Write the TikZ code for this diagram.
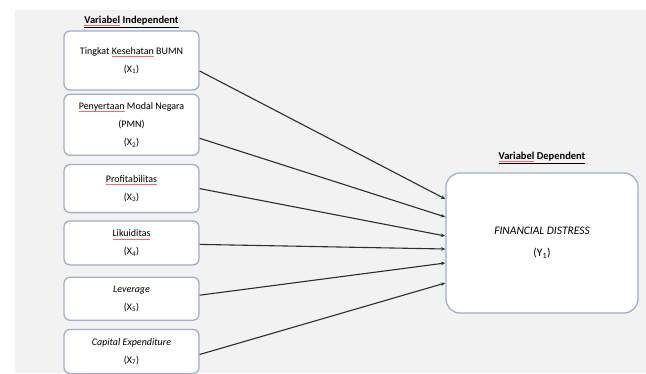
\documentclass[tikz,border=0pt]{standalone}
\usepackage{fontspec}
\setmainfont{Carlito}
\usepackage{xcolor}
\usepackage{tikz}
\usetikzlibrary{positioning,arrows.meta}

\definecolor{boxline}{RGB}{160,175,202}
\definecolor{paper}{RGB}{242,242,242}
\definecolor{wire}{RGB}{45,45,45}
\newcommand{\spellmark}[1]{\setbox0\hbox{#1}\rlap{\color{red!60}\raisebox{-2.6pt}{\rule{\wd0}{0.7pt}}}\box0\relax}

\begin{document}
\begin{tikzpicture}[x=1pt, y=1pt,
    varbox/.style={draw=boxline, line width=1.3pt, rounded corners=6pt, fill=white, minimum width=135pt, align=center, inner sep=2pt, font=\fontsize{10}{18}\selectfont},
    depbox/.style={draw=boxline, line width=1.3pt, rounded corners=14pt, fill=white, minimum width=192pt, minimum height=140pt, align=center, font=\fontsize{11.5}{22}\selectfont},
    header/.style={inner sep=1pt, font=\fontsize{10.5}{12}\selectfont\bfseries},
    link/.style={-{Stealth[length=4.5pt,width=3.5pt]}, draw=wire, line width=1.1pt}]
    % Page
    \useasboundingbox (0,0) rectangle (646,373);
    \fill [white] (0,0) rectangle (646,373);
    \fill [paper] (15,0) rectangle (646,363);

    % Independent variables
    \node [varbox, minimum height=59pt] (x1) at (131.5,312.5) {Tingkat \spellmark{Kesehatan} BUMN\\(X\textsubscript{1})};
    \node [varbox, minimum height=61pt, below=3pt of x1] (x2) {\spellmark{Penyertaan} Modal Negara\\(PMN)\\(X\textsubscript{2})};
    \node [varbox, minimum height=48pt, below=8pt of x2] (x3) {\spellmark{Profitabilitas}\\(X\textsubscript{3})};
    \node [varbox, minimum height=44pt, below=7pt of x3] (x4) {\spellmark{Likuiditas}\\(X\textsubscript{4})};
    \node [varbox, minimum height=43pt, below=11pt of x4] (x5) {\textit{Leverage}\\(X\textsubscript{5})};
    \node [varbox, minimum height=44pt, below=8pt of x5] (x6) {\textit{Capital Expenditure}\\(X\textsubscript{7})};

    % Dependent variable
    \node [depbox] (fd) at (542,130) {\textit{FINANCIAL DISTRESS}\\(Y\textsubscript{1})};

    % Headers
    \node [header, above=1pt of x1] (indep) {\underline{\spellmark{Variabel} Independent}};
    \node [header, above=7pt of fd] (dep) {\underline{\spellmark{Variabel} Dependent}};

    % Connections
    \draw [link] ([yshift=-10.5pt]x1.east) -- ([yshift=44pt]fd.west);
    \draw [link] ([yshift=-13.5pt]x2.east) -- ([yshift=26pt]fd.west);
    \draw [link] (x3.east) -- ([yshift=7pt]fd.west);
    \draw [link] ([yshift=-1.5pt]x4.east) -- ([yshift=-6pt]fd.west);
    \draw [link] ([yshift=3.5pt]x5.east) -- ([yshift=-20pt]fd.west);
    \draw [link] ([yshift=-3pt]x6.east) -- ([yshift=-40pt]fd.west);
\end{tikzpicture}
\end{document}
